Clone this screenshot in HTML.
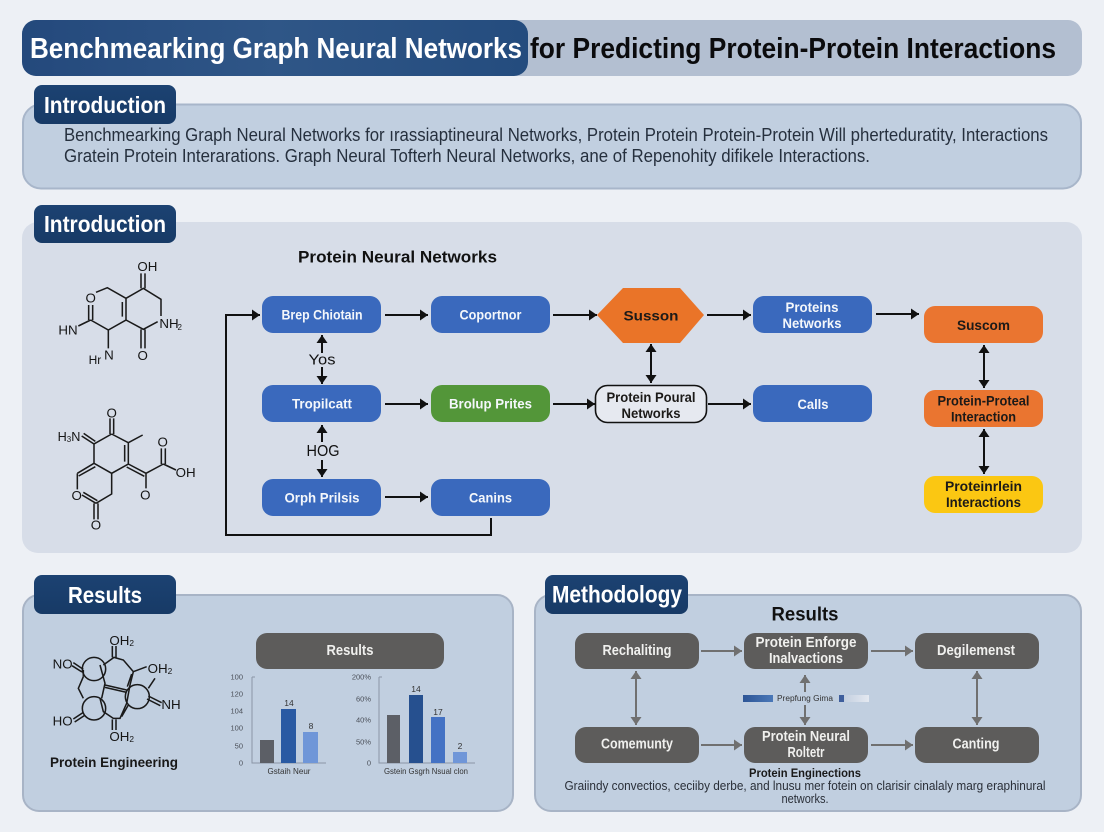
<!DOCTYPE html>
<html><head><meta charset="utf-8"><style>
html,body{margin:0;padding:0;width:1104px;height:832px;overflow:hidden;background:#edf0f5}
svg{display:block;filter:blur(.35px)}
text{font-family:"Liberation Sans",sans-serif;dominant-baseline:central}
.m{text-anchor:middle}
.b{font-weight:bold}
.w{fill:#f4f7fb;font-weight:bold;font-size:14px;text-anchor:middle}
.k{fill:#1c1a18;font-weight:bold;font-size:14px;text-anchor:middle}
.g{fill:#f0f0ee;font-weight:bold;font-size:14.500px;text-anchor:middle}
.tab{fill:#fff;font-weight:bold;font-size:23px}
.bl{fill:#3a69bd}
.c{stroke:#111;stroke-width:2;fill:none}
.gr{stroke:#707070;stroke-width:2;fill:none}
.mol{stroke:#1a1a1a;stroke-width:4.600;fill:none}
.mt{fill:#151515;font-size:40px;text-anchor:middle}
.ax{stroke:#8a96a6;stroke-width:1;fill:none}
.tick{fill:#4a4f58;font-size:7.500px;text-anchor:end}
.lab{fill:#333;font-size:8.500px;text-anchor:middle}
</style></head><body>
<svg width="1104" height="832" viewBox="0 0 1104 832" xmlns="http://www.w3.org/2000/svg">
<defs>
<linearGradient id="tg" x1="0" x2="1" y1="0" y2="0"><stop offset="0" stop-color="#24497c"/><stop offset=".5" stop-color="#2f5687"/><stop offset="1" stop-color="#244c7e"/></linearGradient>
<linearGradient id="tb" x1="0" x2="0" y1="0" y2="1"><stop offset="0" stop-color="#1c4272"/><stop offset="1" stop-color="#173a66"/></linearGradient>
<linearGradient id="lg1" x1="0" x2="1" y1="0" y2="0"><stop offset="0" stop-color="#2d5596"/><stop offset="1" stop-color="#4a78b8"/></linearGradient>
<linearGradient id="lg2" x1="0" x2="1" y1="0" y2="0"><stop offset="0" stop-color="#c5d0e0"/><stop offset="1" stop-color="#e4e9f1"/></linearGradient>
<marker id="a" markerUnits="userSpaceOnUse" markerWidth="10" markerHeight="12" refX="9" refY="6" orient="auto-start-reverse"><path d="M1 0.500L9 6L1 11.500Z" fill="#111"/></marker>
<marker id="ag" markerUnits="userSpaceOnUse" markerWidth="10" markerHeight="12" refX="9" refY="6" orient="auto-start-reverse"><path d="M1 0.500L9 6L1 11.500Z" fill="#707070"/></marker>
</defs>
<rect width="1104" height="832" fill="#edf0f5"/>

<!-- Title -->
<rect x="22" y="20" width="1060" height="56" rx="14" fill="#b3bfd1"/>
<rect x="22" y="20" width="506" height="56" rx="14" fill="url(#tg)"/>
<text x="30" y="49" class="b" font-size="29" fill="#fff" textLength="492" lengthAdjust="spacingAndGlyphs">Benchmearking Graph Neural Networks</text>
<text x="530" y="49" class="b" font-size="29" fill="#0b0b0d" textLength="526" lengthAdjust="spacingAndGlyphs">for Predicting Protein-Protein Interactions</text>

<!-- Intro panel -->
<rect x="23" y="104.500" width="1058" height="84" rx="18" fill="#c1cfe0" stroke="#a8b6ca" stroke-width="2"/>
<rect x="34" y="85" width="142" height="39" rx="8" fill="url(#tb)"/>
<text x="44" y="105" class="tab" textLength="122" lengthAdjust="spacingAndGlyphs">Introduction</text>
<text x="64" y="135" font-size="18" fill="#26303e" textLength="984" lengthAdjust="spacingAndGlyphs">Benchmearking Graph Neural Networks for ırassiaptineural Networks, Protein Protein Protein-Protein Will pherteduratity, Interactions</text>
<text x="64" y="156" font-size="18" fill="#26303e" textLength="806" lengthAdjust="spacingAndGlyphs">Gratein Protein Interarations. Graph Neural Tofterh Neural Networks, ane of Repenohity difikele Interactions.</text>

<!-- Main panel -->
<rect x="22" y="222" width="1060" height="331" rx="16" fill="#d7dde8"/>
<rect x="34" y="205" width="142" height="38" rx="8" fill="url(#tb)"/>
<text x="44" y="224" class="tab" textLength="122" lengthAdjust="spacingAndGlyphs">Introduction</text>
<text x="298" y="257" class="b" font-size="17" fill="#111" textLength="199" lengthAdjust="spacingAndGlyphs">Protein Neural Networks</text>

<!-- Molecule 1 & 2 -->
<g transform="translate(20,240) scale(.33333)">
<path class="mol" d="M228 157L262 143L318 175V240L265 270L212 240M318 175L370 145L423 178V228M413 245L370 268L318 240M307 186V230M363 145V100M375 145V100M363 268V325M375 268V325M175 258L212 240M206 195V240M218 195V240M265 270V325"/>
<text class="mt" x="382" y="80" style="font-weight:500">OH</text>
<text class="mt" x="212" y="174">O</text>
<text class="mt" x="447" y="250">NH</text>
<text class="mt" x="479" y="262" style="font-size:24px">2</text>
<text class="mt" x="144" y="270">HN</text>
<text class="mt" x="225" y="360" style="font-size:36px">Hr</text>
<text class="mt" x="267" y="345">N</text>
<text class="mt" x="368" y="347">O</text>

<path class="mol" d="M270 535V582M281 535V582M275 582L325 608V672L275 700L222 670V612L275 582M185 588L222 612M191 580L226 604M325 608L368 585M314 615V665M325 672L378 700M320 681L373 709M378 700L430 672M424 672V625M436 672V625M430 672L468 690M378 700V745M222 670L172 700M226 680L176 708M172 700V748M186 765L228 790M190 757L232 782M228 790L275 762V700M222 790V838M234 790V838"/>
<text class="mt" x="275" y="519">O</text>
<text class="mt" x="147" y="591" style="font-size:38px">H<tspan dy="6" style="font-size:24px">3</tspan><tspan dy="-6">N</tspan></text>
<text class="mt" x="428" y="606">O</text>
<text class="mt" x="497" y="697">OH</text>
<text class="mt" x="376" y="765">O</text>
<text class="mt" x="170" y="767">O</text>
<text class="mt" x="228" y="855">O</text>
</g>

<!-- Flow nodes -->
<g class="bl">
<rect x="262" y="296" width="119" height="37" rx="11"/>
<rect x="431" y="296" width="119" height="37" rx="11"/>
<rect x="753" y="296" width="119" height="37" rx="11"/>
<rect x="262" y="385" width="119" height="37" rx="11"/>
<rect x="753" y="385" width="119" height="37" rx="11"/>
<rect x="262" y="479" width="119" height="37" rx="11"/>
<rect x="431" y="479" width="119" height="37" rx="11"/>
</g>
<rect x="431" y="385" width="119" height="37" rx="11" fill="#539639"/>
<polygon points="597,315 623,288 680,288 704,315 680,343 623,343" fill="#ea7428"/>
<rect x="924" y="306" width="119" height="37" rx="11" fill="#ea7530"/>
<rect x="924" y="390" width="119" height="37" rx="11" fill="#ea7530"/>
<rect x="924" y="476" width="119" height="37" rx="11" fill="#fbc712"/>
<rect x="595.500" y="385.500" width="111" height="37" rx="12" fill="#e6e9f0" stroke="#111" stroke-width="1.600"/>

<text x="322" y="314.500" class="w" textLength="81" lengthAdjust="spacingAndGlyphs">Brep Chiotain</text>
<text x="490.500" y="314.500" class="w" textLength="62" lengthAdjust="spacingAndGlyphs">Coportnor</text>
<text x="322" y="403.500" class="w" textLength="60" lengthAdjust="spacingAndGlyphs">Tropilcatt</text>
<text x="490.500" y="403.500" class="w" textLength="83" lengthAdjust="spacingAndGlyphs">Brolup Prites</text>
<text x="322" y="497.500" class="w" textLength="75" lengthAdjust="spacingAndGlyphs">Orph Prilsis</text>
<text x="490.500" y="497.500" class="w" textLength="43" lengthAdjust="spacingAndGlyphs">Canins</text>
<text x="651" y="315.500" class="k" textLength="55" lengthAdjust="spacingAndGlyphs">Susson</text>
<text x="812" y="307" class="w" textLength="53" lengthAdjust="spacingAndGlyphs">Proteins</text>
<text x="812" y="323" class="w" textLength="59" lengthAdjust="spacingAndGlyphs">Networks</text>
<text x="651" y="397" class="k" textLength="89" lengthAdjust="spacingAndGlyphs">Protein Poural</text>
<text x="651" y="413" class="k" textLength="59" lengthAdjust="spacingAndGlyphs">Networks</text>
<text x="813" y="404" class="w" textLength="31" lengthAdjust="spacingAndGlyphs">Calls</text>
<text x="983.500" y="325" class="k" textLength="53" lengthAdjust="spacingAndGlyphs">Suscom</text>
<text x="983.500" y="400.500" class="k" textLength="92" lengthAdjust="spacingAndGlyphs">Protein-Proteal</text>
<text x="983.500" y="416.500" class="k" textLength="65" lengthAdjust="spacingAndGlyphs">Interaction</text>
<text x="983.500" y="486" class="k" textLength="77" lengthAdjust="spacingAndGlyphs">Proteinrlein</text>
<text x="983.500" y="502" class="k" textLength="75" lengthAdjust="spacingAndGlyphs">Interactions</text>

<!-- Flow arrows -->
<g class="c">
<path d="M385 315H428" marker-end="url(#a)"/>
<path d="M553 315H597" marker-end="url(#a)"/>
<path d="M707 315H751" marker-end="url(#a)"/>
<path d="M876 314H919" marker-end="url(#a)"/>
<path d="M385 404H428" marker-end="url(#a)"/>
<path d="M553 404H595" marker-end="url(#a)"/>
<path d="M708 404H751" marker-end="url(#a)"/>
<path d="M385 497H428" marker-end="url(#a)"/>
<path d="M491 518V535H226V315H260" marker-end="url(#a)"/>
<path d="M322 353V335" marker-end="url(#a)"/>
<path d="M322 367V384" marker-end="url(#a)"/>
<path d="M322 442V425" marker-end="url(#a)"/>
<path d="M322 460V477" marker-end="url(#a)"/>
<path d="M651 344V383" marker-start="url(#a)" marker-end="url(#a)"/>
<path d="M984 345V388" marker-start="url(#a)" marker-end="url(#a)"/>
<path d="M984 429V474" marker-start="url(#a)" marker-end="url(#a)"/>
</g>
<text x="322" y="360" class="m" font-size="15" fill="#111" textLength="27" lengthAdjust="spacingAndGlyphs">Yos</text>
<text x="323" y="451.500" class="m" font-size="16" fill="#111" textLength="33" lengthAdjust="spacingAndGlyphs">HOG</text>

<!-- Results panel -->
<rect x="23" y="595" width="490" height="216" rx="16" fill="#c1cfe0" stroke="#a8b4c6" stroke-width="2"/>
<rect x="34" y="575" width="142" height="39" rx="8" fill="url(#tb)"/>
<text x="105" y="595" class="tab m" textLength="74" lengthAdjust="spacingAndGlyphs">Results</text>

<g transform="translate(20,570) scale(.33333)">
<g class="mol">
<circle cx="222" cy="297" r="35"/><circle cx="222" cy="415" r="35"/><circle cx="352" cy="380" r="36"/><circle cx="222" cy="356" r="26" stroke="none"/>
<path d="M160 278L190 298M156 287L186 306M190 320L175 355L190 385M160 447L190 427M164 456L194 436M277 228V262M288 228V262M250 285L282 262L310 270L340 305L330 345L320 400L300 445H280L250 425L240 385M335 312L322 350M325 405L305 440M255 345L320 360M255 352L320 367M277 480V448M288 480V448M385 378L425 398M381 387L421 407M405 325L385 355M380 290L340 305M190 300V320M240 285L255 340L245 385"/>
</g>
<text class="mt" x="305" y="211">OH<tspan dy="8" style="font-size:25px">2</tspan></text>
<text class="mt" x="128" y="282">NO</text>
<text class="mt" x="420" y="295">OH<tspan dy="8" style="font-size:25px">2</tspan></text>
<text class="mt" x="453" y="403">NH</text>
<text class="mt" x="128" y="453">HO</text>
<text class="mt" x="305" y="499">OH<tspan dy="8" style="font-size:25px">2</tspan></text>
</g>
<text x="50" y="762" class="b" font-size="14" fill="#181818" textLength="128" lengthAdjust="spacingAndGlyphs">Protein Engineering</text>

<rect x="256" y="633" width="188" height="36" rx="11" fill="#5d5c5b"/>
<text x="350" y="651" class="g" textLength="47" lengthAdjust="spacingAndGlyphs">Results</text>

<!-- Chart 1 -->
<path class="ax" d="M252 677V763H326M252 677H255"/>
<rect x="260" y="740" width="14" height="23" fill="#5c5f66"/>
<rect x="281" y="709" width="15" height="54" fill="#2a5aa3"/>
<rect x="303" y="732" width="15" height="31" fill="#6f96d8"/>
<text class="tick" x="243" y="677">100</text><text class="tick" x="243" y="694">120</text><text class="tick" x="243" y="711">104</text><text class="tick" x="243" y="728">100</text><text class="tick" x="243" y="746">50</text><text class="tick" x="243" y="763">0</text>
<text class="lab" x="289" y="703">14</text><text class="lab" x="311" y="726">8</text>
<text class="lab" x="289" y="771" textLength="43" lengthAdjust="spacingAndGlyphs">Gstaih Neur</text>

<!-- Chart 2 -->
<path class="ax" d="M379 677V763H475M379 677H382"/>
<rect x="387" y="715" width="13" height="48" fill="#5c5f66"/>
<rect x="409" y="695" width="14" height="68" fill="#26508f"/>
<rect x="431" y="717" width="14" height="46" fill="#4472c4"/>
<rect x="453" y="752" width="14" height="11" fill="#6f96d8"/>
<text class="tick" x="371" y="677">200%</text><text class="tick" x="371" y="699">60%</text><text class="tick" x="371" y="720">40%</text><text class="tick" x="371" y="742">50%</text><text class="tick" x="371" y="763">0</text>
<text class="lab" x="416" y="689">14</text><text class="lab" x="438" y="712">17</text><text class="lab" x="460" y="746">2</text>
<text class="lab" x="426" y="771" textLength="84" lengthAdjust="spacingAndGlyphs">Gstein Gsgrh Nsual clon</text>

<!-- Methodology panel -->
<rect x="535" y="595" width="546" height="216" rx="16" fill="#c1cfe0" stroke="#a8b4c6" stroke-width="2"/>
<rect x="545" y="575" width="143" height="39" rx="8" fill="url(#tb)"/>
<text x="617" y="595" class="tab m" style="font-size:24px" textLength="130" lengthAdjust="spacingAndGlyphs">Methodology</text>
<text x="805" y="615" class="m b" font-size="19" fill="#111" textLength="67" lengthAdjust="spacingAndGlyphs">Results</text>

<g fill="#5d5c5b">
<rect x="575" y="633" width="124" height="36" rx="11"/>
<rect x="744" y="633" width="124" height="36" rx="11"/>
<rect x="915" y="633" width="124" height="36" rx="11"/>
<rect x="575" y="727" width="124" height="36" rx="11"/>
<rect x="744" y="727" width="124" height="36" rx="11"/>
<rect x="915" y="727" width="124" height="36" rx="11"/>
</g>
<text x="637" y="651" class="g" textLength="69" lengthAdjust="spacingAndGlyphs">Rechaliting</text>
<text x="806" y="643" class="g" textLength="101" lengthAdjust="spacingAndGlyphs">Protein Enforge</text>
<text x="806" y="659" class="g" textLength="74" lengthAdjust="spacingAndGlyphs">Inalvactions</text>
<text x="976" y="651" class="g" textLength="78" lengthAdjust="spacingAndGlyphs">Degilemenst</text>
<text x="637" y="744.500" class="g" textLength="72" lengthAdjust="spacingAndGlyphs">Comemunty</text>
<text x="806" y="737" class="g" textLength="88" lengthAdjust="spacingAndGlyphs">Protein Neural</text>
<text x="806" y="753" class="g" textLength="37" lengthAdjust="spacingAndGlyphs">Roltetr</text>
<text x="976" y="744.500" class="g" textLength="47" lengthAdjust="spacingAndGlyphs">Canting</text>

<g class="gr">
<path d="M701 651H742" marker-end="url(#ag)"/>
<path d="M871 651H913" marker-end="url(#ag)"/>
<path d="M701 745H742" marker-end="url(#ag)"/>
<path d="M871 745H913" marker-end="url(#ag)"/>
<path d="M636 671V725" marker-start="url(#ag)" marker-end="url(#ag)"/>
<path d="M977 671V725" marker-start="url(#ag)" marker-end="url(#ag)"/>
<path d="M805 675V725" marker-start="url(#ag)" marker-end="url(#ag)"/>
</g>
<rect x="743" y="695" width="30" height="7" fill="url(#lg1)"/>
<rect x="775" y="692" width="60" height="13" fill="#c1cfe0"/>
<text x="805" y="698.500" class="m" font-size="8" fill="#333" textLength="56" lengthAdjust="spacingAndGlyphs">Prepfung Gima</text>
<rect x="839" y="695" width="5" height="7" fill="#3e5e9c"/>
<rect x="845" y="695" width="24" height="7" fill="url(#lg2)"/>

<text x="805" y="773" class="m b" font-size="12" fill="#1a1a1a" textLength="112" lengthAdjust="spacingAndGlyphs">Protein Enginections</text>
<text x="805" y="786" class="m" font-size="12.500" fill="#2a2f38" textLength="481" lengthAdjust="spacingAndGlyphs">Graiindy convectios, ceciiby derbe, and lnusu mer fotein on clarisir cinalaly marg eraphinural</text>
<text x="805" y="799" class="m" font-size="12.500" fill="#2a2f38" textLength="47" lengthAdjust="spacingAndGlyphs">networks.</text>
</svg>
</body></html>
